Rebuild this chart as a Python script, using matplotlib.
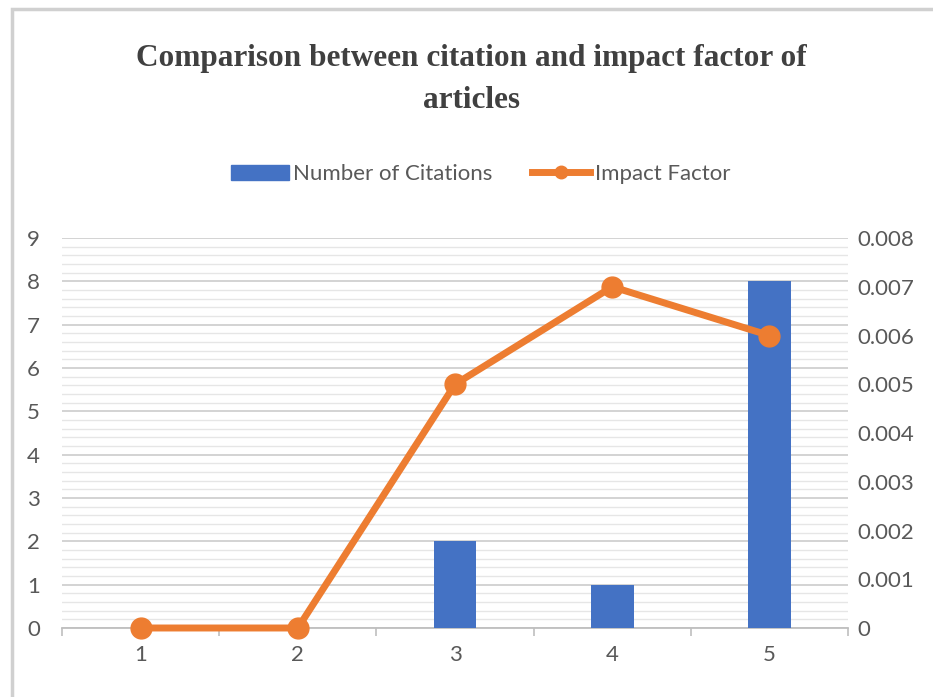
import matplotlib.pyplot as plt
from matplotlib.patches import Rectangle
from matplotlib.lines import Line2D
from matplotlib.ticker import MultipleLocator

# data
articles = ['1', '2', '3', '4', '5']
citations = [0, 0, 2, 1, 8]
impact_factor = [0, 0, 0.005, 0.007, 0.006]
right_ticks = [0, 0.001, 0.002, 0.003, 0.004, 0.005, 0.006, 0.007, 0.008]
right_labels = ['0', '0.001', '0.002', '0.003', '0.004', '0.005', '0.006', '0.007', '0.008']

blue = '#4472C4'
orange = '#ED7D31'
txt = '#595959'
sans = ['Lato', 'DejaVu Sans']

fig = plt.figure(figsize=(9.33, 6.97), dpi=100)
fig.patches.append(Rectangle((0.013, -0.01), 1.0, 0.997, transform=fig.transFigure,
                             fill=False, edgecolor='#d0d0d0', linewidth=2.5))

ax = fig.add_axes([0.0665, 0.099, 0.8425, 0.5595])
x = list(range(len(articles)))
ax.bar(x, citations, width=0.27, color=blue, zorder=3)
ax.set_xlim(-0.5, 4.5)
ax.set_ylim(0, 9)
ax.yaxis.set_major_locator(MultipleLocator(1))
ax.yaxis.set_minor_locator(MultipleLocator(0.2))
ax.grid(axis='y', which='major', color='#d0d0d0', linewidth=1.3, zorder=0)
ax.grid(axis='y', which='minor', color='#e6e6e6', linewidth=1.0, zorder=0)
ax.set_xticks(x)
ax.set_xticklabels(articles)
ax.set_xticks([i + 0.5 for i in range(-1, 5)], minor=True)
ax.tick_params(axis='x', which='major', length=0, pad=12, labelsize=16, labelcolor=txt)
ax.tick_params(axis='x', which='minor', length=6, color='#bfbfbf', width=1.2)
ax.tick_params(axis='y', which='both', length=0, pad=16, labelsize=16, labelcolor=txt)
for s in ['top', 'left', 'right']:
    ax.spines[s].set_visible(False)
ax.spines['bottom'].set_color('#bfbfbf')
ax.spines['bottom'].set_linewidth(1.3)
for lab in ax.get_xticklabels() + ax.get_yticklabels():
    lab.set_family(sans)

ax2 = ax.twinx()
ax2.plot(x, impact_factor, color=orange, linewidth=5, marker='o', markersize=15,
         zorder=4, clip_on=False)
ax2.set_ylim(0, 0.008)
ax2.set_yticks(right_ticks)
ax2.set_yticklabels(right_labels)
ax2.tick_params(axis='y', length=0, pad=7, labelsize=16, labelcolor=txt)
for s in ['top', 'left', 'right', 'bottom']:
    ax2.spines[s].set_visible(False)
for lab in ax2.get_yticklabels():
    lab.set_family(sans)

fig.text(0.505, 0.886, 'Comparison between citation and impact factor of\narticles',
         ha='center', va='center', fontsize=22.5, fontweight='bold',
         family=['Liberation Serif', 'DejaVu Serif'], color='#404040', linespacing=1.55)

handles = [Rectangle((0, 0), 1, 1, color=blue),
           Line2D([0], [0], color=orange, linewidth=5, marker='o', markersize=9)]
fig.legend(handles, ['Number of Citations', 'Impact Factor'], loc='center',
           bbox_to_anchor=(0.515, 0.75), ncol=2, frameon=False,
           prop={'family': sans, 'size': 16}, labelcolor=txt,
           handlelength=2.6, handletextpad=0.2, columnspacing=1.8)

plt.savefig('out.png', dpi=100)
